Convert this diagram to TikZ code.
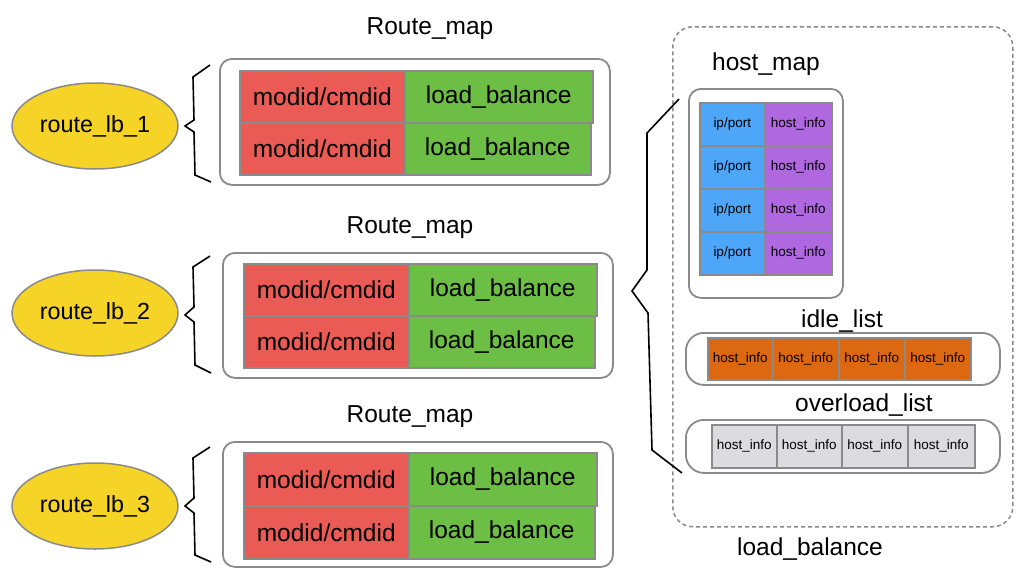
\documentclass[tikz,border=0pt]{standalone}
\usepackage{fontspec}
\setmainfont{Liberation Sans}
\usetikzlibrary{shapes.geometric}
\definecolor{cellred}{HTML}{EB5B55}
\definecolor{cellgreen}{HTML}{6DBE45}
\definecolor{edgegray}{HTML}{8A8A8A}
\definecolor{lbyellow}{HTML}{F5D327}
\definecolor{cellblue}{HTML}{4DA6F7}
\definecolor{cellpurple}{HTML}{B068E0}
\definecolor{cellorange}{HTML}{DC6911}
\definecolor{celllight}{HTML}{DCDCDE}
\begin{document}
\begin{tikzpicture}[x=1pt,y=-1pt,
  lb/.style={ellipse, draw=edgegray, line width=1.5pt, fill=lbyellow, minimum width=166pt, minimum height=86pt, inner sep=0pt, font=\fontsize{23.3}{27}\selectfont},
  outerbox/.style={draw=edgegray, line width=1.8pt, rounded corners=12pt, anchor=north west, inner sep=0pt},
  bigcell/.style={draw=edgegray, line width=1.5pt, anchor=north west, inner sep=0pt, font=\fontsize{24.5}{28}\selectfont},
  smallcell/.style={draw=edgegray, line width=1.5pt, anchor=north west, inner sep=0pt, font=\fontsize{13.5}{16}\selectfont},
  title/.style={font=\fontsize{24.5}{28}\selectfont, inner sep=0pt},
  bracestroke/.style={draw=black, line width=1.6pt}
]
\useasboundingbox (0,0) rectangle (1024,584);

% ellipses
\node[lb] (lb1) at (95,126) {route\_lb\_1};
\node[lb] (lb2) at (95,313) {route\_lb\_2};
\node[lb] (lb3) at (95,506) {route\_lb\_3};

% braces
\draw[bracestroke] (210,65) -- (193,77) -- (194,120) -- (185,126) -- (194,132) -- (195,175) -- (211,182);
\draw[bracestroke] (210,256) -- (193,267) -- (194,307) -- (185,315) -- (194,322) -- (195,365) -- (211,373);
\draw[bracestroke] (210,447) -- (193,458) -- (194,498) -- (185,506) -- (194,513) -- (195,555) -- (211,562);

% route map 1
\node[title] (t1) at (430,29) {Route\_map};
\node[outerbox, minimum width=390pt, minimum height=126pt] (rm1) at (219,58) {};
\node[bigcell, fill=cellred, minimum width=165pt, minimum height=52pt] (r1a) at (239,70) {modid/cmdid};
\node[bigcell, fill=cellgreen, minimum width=188pt, minimum height=52pt] (g1a) at (404,70) {load\_balance};
\node[bigcell, fill=cellred, minimum width=165pt, minimum height=52pt] (r1b) at (239,122) {modid/cmdid};
\node[bigcell, fill=cellgreen, minimum width=186pt, minimum height=52pt] (g1b) at (404,122) {load\_balance};

% route map 2
\node[title] (t2) at (410,228) {Route\_map};
\node[outerbox, minimum width=390pt, minimum height=125pt] (rm2) at (222,252) {};
\node[bigcell, fill=cellred, minimum width=165pt, minimum height=52pt] (r2a) at (243,263) {modid/cmdid};
\node[bigcell, fill=cellgreen, minimum width=188pt, minimum height=52pt] (g2a) at (408,263) {load\_balance};
\node[bigcell, fill=cellred, minimum width=165pt, minimum height=52pt] (r2b) at (243,315) {modid/cmdid};
\node[bigcell, fill=cellgreen, minimum width=186pt, minimum height=52pt] (g2b) at (408,315) {load\_balance};

% route map 3
\node[title] (t3) at (410,417) {Route\_map};
\node[outerbox, minimum width=390pt, minimum height=125pt] (rm3) at (222,441) {};
\node[bigcell, fill=cellred, minimum width=165pt, minimum height=53pt] (r3a) at (243,452) {modid/cmdid};
\node[bigcell, fill=cellgreen, minimum width=188pt, minimum height=53pt] (g3a) at (408,452) {load\_balance};
\node[bigcell, fill=cellred, minimum width=165pt, minimum height=53pt] (r3b) at (243,505) {modid/cmdid};
\node[bigcell, fill=cellgreen, minimum width=186pt, minimum height=53pt] (g3b) at (408,505) {load\_balance};

% load balance dashed container
\node[draw=edgegray, line width=1.5pt, dash pattern=on 4pt off 3pt, rounded corners=20pt, anchor=north west, minimum width=340pt, minimum height=500pt, inner sep=0pt] (lbbox) at (672,26) {};
\node[title] (lbt) at (810,549) {load\_balance};

% big brace
\draw[bracestroke] (679,99) -- (647,133) -- (647,270) -- (632,291) -- (648,313) -- (652,450) -- (682,473);

% host map
\node[title] (hmt) at (766,64) {host\_map};
\node[outerbox, minimum width=154pt, minimum height=209pt] (hm) at (688,88) {};
\foreach \i/\y in {1/102,2/145,3/188,4/231}{
  \node[smallcell, fill=cellblue, minimum width=65pt, minimum height=43pt] (ip\i) at (699,\y) {ip/port};
  \node[smallcell, fill=cellpurple, minimum width=67pt, minimum height=43pt] (hi\i) at (764,\y) {host\_info};
}

% idle list
\node[title] (ilt) at (842,321) {idle\_list};
\node[draw=edgegray, line width=1.8pt, rounded corners=18pt, anchor=north west, minimum width=314pt, minimum height=52pt, inner sep=0pt] (il) at (685,332) {};
\foreach \i/\x/\w in {1/707/65,2/772/66,3/838/66,4/904/66}{
  \node[smallcell, fill=cellorange, minimum width=\w pt, minimum height=42pt] (idle\i) at (\x,337) {host\_info};
}

% overload list
\node[title] (olt) at (864,405) {overload\_list};
\node[draw=edgegray, line width=1.8pt, rounded corners=18pt, anchor=north west, minimum width=314pt, minimum height=53pt, inner sep=0pt] (ol) at (685,419) {};
\foreach \i/\x/\w in {1/711/65,2/776/65,3/841/66,4/907/67}{
  \node[smallcell, fill=celllight, minimum width=\w pt, minimum height=43pt] (ov\i) at (\x,424) {host\_info};
}
\end{tikzpicture}
\end{document}
